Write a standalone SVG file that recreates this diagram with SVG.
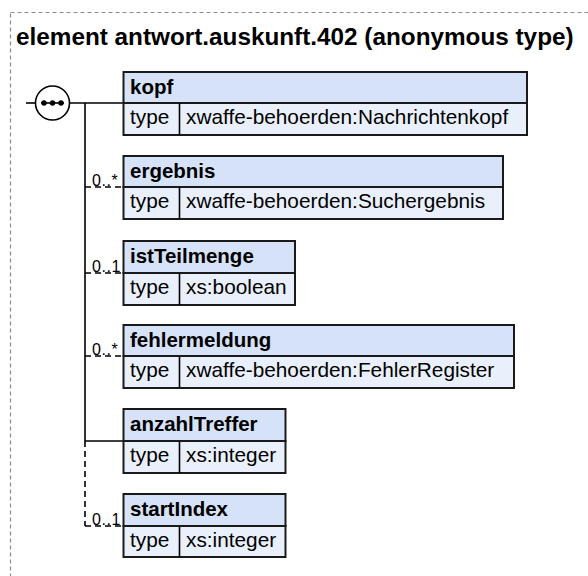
<svg xmlns="http://www.w3.org/2000/svg" width="588" height="576" viewBox="0 0 588 576">
<style>
text{font-family:"Liberation Sans",Arial,sans-serif;fill:#000}
.title{font-size:24.3px;font-weight:bold}
.name{font-size:20.5px;font-weight:bold}
.val{font-size:20.8px}
.card{font-size:16px;letter-spacing:0.6px}
.hd{fill:#d6e2f7;stroke:#1a1a1a;stroke-width:2}
.tr{fill:#eaf0fb;stroke:#1a1a1a;stroke-width:2}
.ln{stroke:#000;stroke-width:1.6;fill:none}
.dl{stroke:#000;stroke-width:1.6;fill:none;stroke-dasharray:6,4}
</style>
<rect x="10.5" y="12.5" width="640" height="640" fill="none" stroke="#8c8c8c" stroke-width="1.2" stroke-dasharray="4,3"/>
<text class="title" x="16" y="45">element antwort.auskunft.402 (anonymous type)</text>
<g id="connectors">
<line class="ln" x1="26" y1="103" x2="36" y2="103"/>
<line class="ln" x1="70" y1="103" x2="123" y2="103"/>
<line class="ln" x1="85" y1="103" x2="85" y2="441"/>
<line class="ln" x1="85" y1="441" x2="123" y2="441"/>
<line class="dl" x1="85" y1="441" x2="85" y2="526"/>
<line class="dl" x1="85" y1="187" x2="123" y2="187"/>
<line class="dl" x1="85" y1="273" x2="123" y2="273"/>
<line class="dl" x1="85" y1="356" x2="123" y2="356"/>
<line class="dl" x1="85" y1="526" x2="123" y2="526"/>
<text class="card" x="92" y="186">0..*</text>
<text class="card" x="92" y="272">0..1</text>
<text class="card" x="92" y="355">0..*</text>
<text class="card" x="92" y="525">0..1</text>
</g>
<g id="sequence">
<circle cx="52.5" cy="103" r="17" fill="#fff" stroke="#000" stroke-width="1.6"/>
<line class="ln" x1="41" y1="103" x2="64" y2="103"/>
<circle cx="44" cy="103" r="2.7"/>
<circle cx="52.5" cy="103" r="2.7"/>
<circle cx="61" cy="103" r="2.7"/>
</g>
<g id="kopf">
<rect class="hd" x="123.5" y="72" width="403.5" height="31"/>
<rect class="tr" x="123.5" y="103" width="403.5" height="32"/>
<line class="ln" x1="179.5" y1="103" x2="179.5" y2="135" stroke-width="2"/>
<text class="name" x="130" y="94">kopf</text>
<text class="val" x="130" y="124">type</text>
<text class="val" x="186" y="124">xwaffe-behoerden:Nachrichtenkopf</text>
</g>
<g id="ergebnis">
<rect class="hd" x="123.5" y="156" width="379.5" height="31"/>
<rect class="tr" x="123.5" y="187" width="379.5" height="32"/>
<line class="ln" x1="179.5" y1="187" x2="179.5" y2="219" stroke-width="2"/>
<text class="name" x="130" y="178">ergebnis</text>
<text class="val" x="130" y="208">type</text>
<text class="val" x="186" y="208">xwaffe-behoerden:Suchergebnis</text>
</g>
<g id="istTeilmenge">
<rect class="hd" x="123.5" y="241" width="171.5" height="32"/>
<rect class="tr" x="123.5" y="273" width="171.5" height="32"/>
<line class="ln" x1="179.5" y1="273" x2="179.5" y2="305" stroke-width="2"/>
<text class="name" x="130" y="263">istTeilmenge</text>
<text class="val" x="130" y="294">type</text>
<text class="val" x="186" y="294">xs:boolean</text>
</g>
<g id="fehlermeldung">
<rect class="hd" x="123.5" y="325" width="390.5" height="31"/>
<rect class="tr" x="123.5" y="356" width="390.5" height="32"/>
<line class="ln" x1="179.5" y1="356" x2="179.5" y2="388" stroke-width="2"/>
<text class="name" x="130" y="347">fehlermeldung</text>
<text class="val" x="130" y="377">type</text>
<text class="val" x="186" y="377">xwaffe-behoerden:FehlerRegister</text>
</g>
<g id="anzahlTreffer">
<rect class="hd" x="123.5" y="409" width="162" height="32"/>
<rect class="tr" x="123.5" y="441" width="162" height="32"/>
<line class="ln" x1="179.5" y1="441" x2="179.5" y2="473" stroke-width="2"/>
<text class="name" x="130" y="431">anzahlTreffer</text>
<text class="val" x="130" y="462">type</text>
<text class="val" x="186" y="462">xs:integer</text>
</g>
<g id="startIndex">
<rect class="hd" x="123.5" y="494" width="162" height="32"/>
<rect class="tr" x="123.5" y="526" width="162" height="31"/>
<line class="ln" x1="179.5" y1="526" x2="179.5" y2="557" stroke-width="2"/>
<text class="name" x="130" y="516">startIndex</text>
<text class="val" x="130" y="547">type</text>
<text class="val" x="186" y="547">xs:integer</text>
</g>
</svg>
